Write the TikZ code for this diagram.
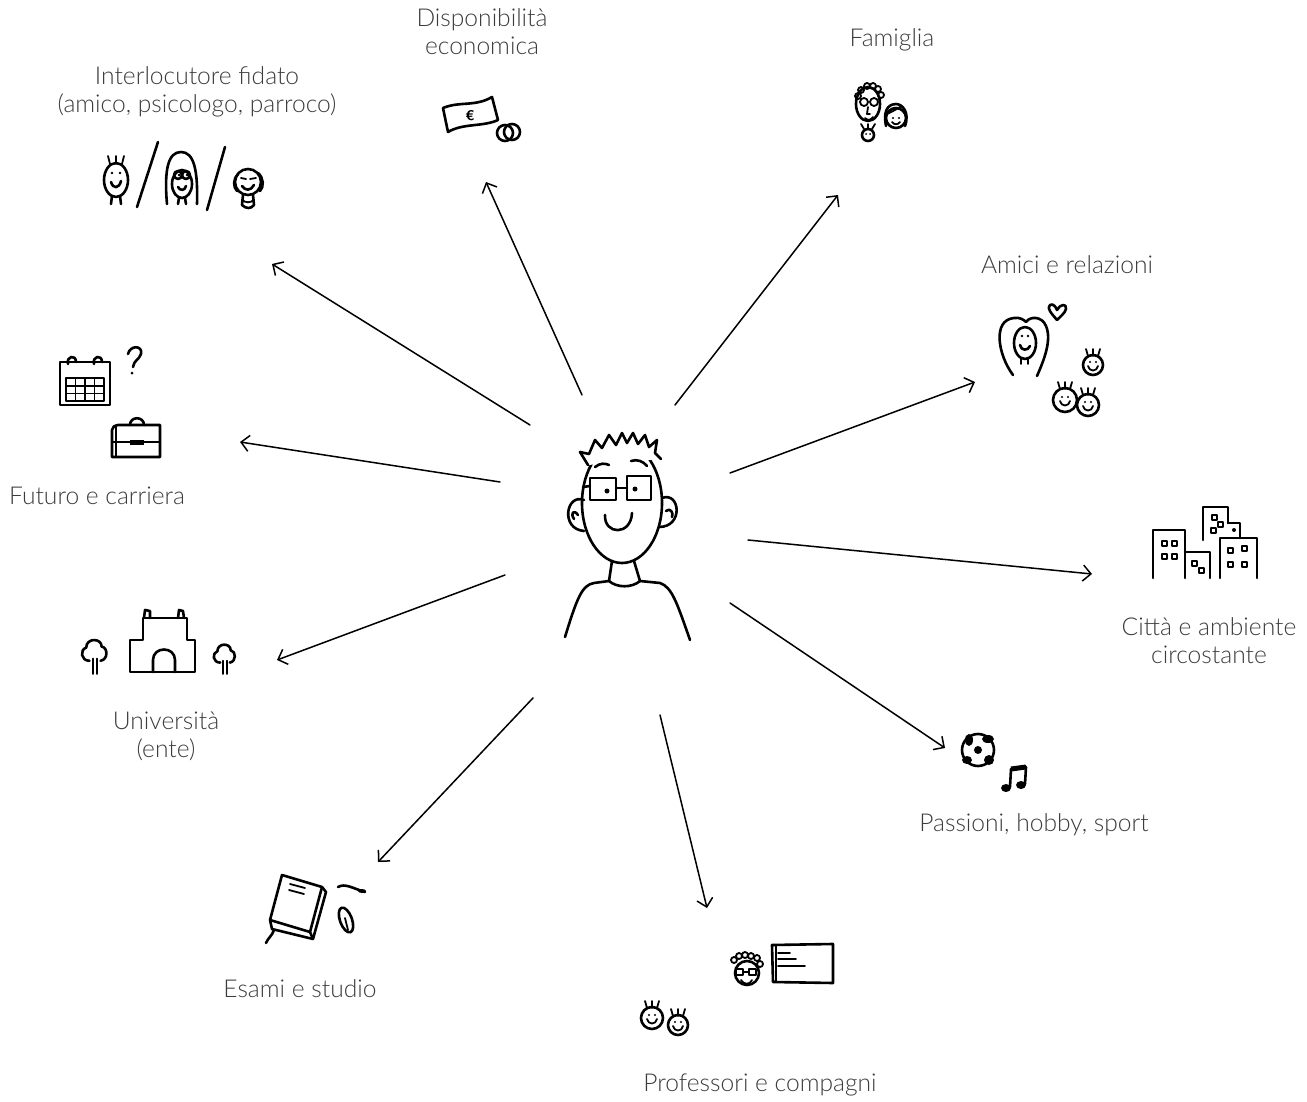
\documentclass[tikz,border=0pt]{standalone}
\usepackage{fontspec}
\setmainfont{Lato}[UprightFont=* Light]
\usepackage{tikz}
\usetikzlibrary{arrows.meta}
\usepackage{xcolor}
\definecolor{labelgrey}{HTML}{3C3C3C}

\begin{document}
\begin{tikzpicture}[x=0.5pt, y=-0.5pt,
    ink/.style={line width=1.3pt, line cap=round, line join=round},
    thin ink/.style={line width=0.9pt, line cap=round, line join=round},
    link/.style={line width=0.75pt, line cap=round, -{Straight Barb[length=4pt, width=8pt]}},
    lbl/.style={align=center, text=labelgrey, font=\fontsize{12.3}{14}\selectfont}]
    \useasboundingbox (0,0) rectangle (1307,1102);

    % etichette
    \node[lbl] (money) at (482,32) {Disponibilità\\economica};
    \node[lbl] (family) at (892,40) {Famiglia};
    \node[lbl] (trust) at (197,92) {Interlocutore fidato\\(amico, psicologo, parroco)};
    \node[lbl] (friends) at (1067,265) {Amici e relazioni};
    \node[lbl] (future) at (97,496) {Futuro e carriera};
    \node[lbl] (city) at (1209,641) {Città e ambiente\\circostante};
    \node[lbl] (uni) at (166,736) {Università\\(ente)};
    \node[lbl] (hobby) at (1034,825) {Passioni, hobby, sport};
    \node[lbl] (exams) at (300,989) {Esami e studio};
    \node[lbl] (profs) at (760,1085) {Professori e compagni};

    % frecce dal centro verso ogni ambito
    \coordinate (s-trust) at (530,425);   \coordinate (e-trust) at (272,264);
    \coordinate (s-money) at (582,395);   \coordinate (e-money) at (486,182);
    \coordinate (s-family) at (675,405);  \coordinate (e-family) at (838,195);
    \coordinate (s-friends) at (730,473); \coordinate (e-friends) at (975,382);
    \coordinate (s-city) at (748,540);    \coordinate (e-city) at (1092,574);
    \coordinate (s-hobby) at (730,603);   \coordinate (e-hobby) at (945,748);
    \coordinate (s-profs) at (660,715);   \coordinate (e-profs) at (707,908);
    \coordinate (s-exams) at (533,698);   \coordinate (e-exams) at (378,862);
    \coordinate (s-uni) at (505,575);     \coordinate (e-uni) at (277,660);
    \coordinate (s-future) at (500,482);  \coordinate (e-future) at (240,442);
    \foreach \n in {trust,money,family,friends,city,hobby,profs,exams,uni,future}
        \draw[link] (s-\n) -- (e-\n);

    % lo studente al centro
    \begin{scope}[shift={(622,503)}]
        \draw[ink] (0,0) ellipse [x radius=40, y radius=60];
        \draw[ink, fill=white] (-34,-38) -- (-42,-51) -- (-33,-49) -- (-27,-63) -- (-20,-55)
            -- (-13,-68) -- (-6,-58) -- (0,-70) -- (5,-60) -- (11,-70) -- (16,-59)
            -- (23,-68) -- (27,-56) -- (35,-63) -- (33,-50) -- (39,-44);
        % occhiali
        \draw[ink] (-32,-25) rectangle (-6,-3);
        \draw[ink] (5,-27) rectangle (29,-3);
        \draw[ink] (-6,-15) -- (5,-15);
        \draw[ink] (-32,-17) -- (-39,-16);
        \fill (-15,-12) circle (2.5);
        \fill (13,-14) circle (2.5);
        \draw[ink] (-27,-36) .. controls (-22,-40) and (-17,-40) .. (-13,-38);
        \draw[ink] (9,-42) .. controls (15,-44) and (21,-42) .. (25,-37);
        % bocca e orecchie
        \draw[ink] (-17,12) .. controls (-18,32) and (9,33) .. (10,10);
        \draw[ink] (-38,-3) .. controls (-56,-10) and (-62,26) .. (-38,28);
        \draw[ink] (-44,12) .. controls (-48,6) and (-52,10) .. (-48,16);
        \draw[ink] (40,-5) .. controls (58,-12) and (62,24) .. (37,24);
        \draw[ink] (44,8) .. controls (48,4) and (52,10) .. (50,14);
        % collo e spalle
        \draw[ink] (-10,58) -- (-13,78) .. controls (-5,85) and (10,85) .. (18,78) -- (12,58);
        \draw[ink] (-13,78) -- (-28,80) .. controls (-40,82) and (-45,95) .. (-57,134);
        \draw[ink] (18,78) -- (38,80) .. controls (50,84) and (55,100) .. (68,137);
    \end{scope}

    % interlocutore: amico / psicologa / parroco
    \begin{scope}[shift={(180,180)}]
        \draw[ink] (-64,0) ellipse [x radius=12, y radius=17];
        \foreach \a in {-1,0,1}
            \draw[thin ink] ({-64+\a*6},-16) -- ({-64+\a*8},-24);
        \fill (-68,-7) circle (1.3);
        \fill (-60,-7) circle (1.3);
        \draw[ink] (-69,2) .. controls (-67,9) and (-61,9) .. (-59,1);
        \draw[ink] (-68,16) -- (-69,24);
        \draw[ink] (-60,16) -- (-59,24);
        \draw[ink] (-43,27) -- (-22,-38);
        \draw[ink] (-13,24) .. controls (-16,-10) and (-12,-28) .. (1,-28)
            .. controls (14,-28) and (18,-10) .. (17,24);
        \draw[ink] (2,4) ellipse [x radius=10, y radius=14];
        \draw[ink] (-2,-5) circle (4);
        \draw[ink] (6,-5) circle (4);
        \fill (-1,-5) circle (1.5);
        \fill (7,-5) circle (1.5);
        \draw[ink] (-2,7) .. controls (0,11) and (5,11) .. (6,6);
        \draw[ink] (-1,18) -- (-2,24);
        \draw[ink] (5,18) -- (6,24);
        \draw[ink] (27,30) -- (45,-33);
        \draw[ink] (68,2) circle (13);
        \draw[ink] (58,-6) .. controls (53,-1) and (53,7) .. (57,11);
        \draw[ink] (78,-7) .. controls (84,-2) and (84,7) .. (80,11);
        \draw[thin ink] (61,-2) -- (66,-1);
        \draw[thin ink] (70,-1) -- (76,-2);
        \draw[ink] (62,6) .. controls (65,11) and (71,11) .. (74,5);
        \draw[ink] (63,15) -- (62,25) .. controls (66,29) and (71,29) .. (74,25) -- (73,15);
        \draw[thin ink] (62,20) .. controls (66,23) and (70,23) .. (74,20);
    \end{scope}

    % soldi
    \begin{scope}[shift={(475,115)}]
        \draw[ink] (-32,-7) .. controls (-15,-14) and (0,-8) .. (17,-18) -- (23,5)
            .. controls (8,12) and (-12,8) .. (-27,17) -- cycle;
        \node[font=\sffamily\bfseries\scriptsize] (euro) at (-5,1) {€};
        \draw[ink] (30,18) circle (8);
        \draw[ink] (37,17) circle (8);
    \end{scope}

    % famiglia
    \begin{scope}[shift={(880,110)}]
        \draw[ink] (-12,-6) ellipse [x radius=12, y radius=17];
        \foreach \cx/\cy in {-22/-14,-19/-20,-13/-24,-7/-24,-2/-21,1/-15}
            \draw[thin ink] (\cx,\cy) circle (3);
        \draw[thin ink] (-16,-8) circle (4);
        \draw[thin ink] (-6,-8) circle (4);
        \draw[thin ink] (-12,-3) -- (-13,4) -- (-10,4);
        \draw[thin ink] (-15,8) .. controls (-12,11) and (-9,10) .. (-7,7);
        \draw[ink] (6,16) .. controls (2,-4) and (12,-6) .. (16,-6)
            .. controls (22,-6) and (30,2) .. (25,16);
        \draw[ink] (16,8) circle (10);
        \draw[thin ink] (7,4) .. controls (12,2) and (18,-2) .. (22,-4);
        \fill (13,8) circle (1.2);
        \fill (19,8) circle (1.2);
        \draw[thin ink] (12,12) .. controls (14,15) and (18,15) .. (20,12);
        \draw[ink] (-12,25) circle (6);
        \foreach \a in {-1,0,1}
            \draw[thin ink] ({-12+\a*4},19) -- ({-12+\a*7},14);
        \fill (-14,24) circle (1);
        \fill (-10,24) circle (1);
    \end{scope}

    % amici e relazioni
    \begin{scope}[shift={(1050,360)}]
        \draw[ink] (-37,15) .. controls (-52,-5) and (-58,-40) .. (-36,-42)
            .. controls (-30,-43) and (-26,-40) .. (-24,-38)
            .. controls (-20,-44) and (-8,-44) .. (-4,-34)
            .. controls (2,-20) and (-6,0) .. (-13,16);
        \draw[ink] (-25,-17) ellipse [x radius=11, y radius=16];
        \fill (-28,-24) circle (1.3);
        \fill (-22,-24) circle (1.3);
        \draw[ink] (-30,-15) .. controls (-29,-9) and (-22,-9) .. (-20,-14);
        \draw[thin ink] (-29,-1) -- (-29,4);
        \draw[thin ink] (-22,-1) -- (-22,4);
        \draw[ink] (7,-40) .. controls (2,-46) and (-4,-52) .. (0,-55)
            .. controls (3,-57) and (6,-53) .. (7,-50)
            .. controls (10,-56) and (17,-57) .. (16,-51)
            .. controls (15,-47) and (10,-43) .. (7,-40);
        \foreach \fx/\fy/\fr in {43/5/10,15/40/12,38/45/11} {
            \draw[ink] (\fx,\fy) circle (\fr);
            \foreach \a in {-1,0,1}
                \draw[thin ink] ({\fx+\a*5},{\fy-\fr+1}) -- ({\fx+\a*7},{\fy-\fr-6});
            \fill ({\fx-3},{\fy-3}) circle (1.2);
            \fill ({\fx+3},{\fy-3}) circle (1.2);
            \draw[thin ink] ({\fx-5},{\fy+1}) .. controls ({\fx-4},{\fy+7}) and ({\fx+4},{\fy+7}) .. ({\fx+5},{\fy+1});
        }
    \end{scope}

    % città
    \begin{scope}[shift={(1205,545)}]
        \draw[ink] (-52,33) -- (-52,-15) -- (-20,-15) -- (-20,33);
        \draw[ink] (-20,7) -- (5,7) -- (5,33);
        \draw[ink] (-2,-5) -- (-2,-38) -- (23,-38) -- (23,-22);
        \draw[ink] (23,-22) -- (35,-22) -- (35,-7);
        \draw[ink] (15,33) -- (15,-7) -- (52,-7) -- (52,33);
        \foreach \wx/\wy in {-43/-4,-33/-4,-43/9,-33/9,-13/16,-6/23,7/-30,13/-23,6/-17,23/3,37/1,23/17,37/17}
            \draw[thin ink] (\wx,\wy) rectangle ++(5,5);
        \fill (29,-15) circle (2);
    \end{scope}

    % passioni: pallone e musica
    \begin{scope}[shift={(995,765)}]
        \draw[ink] (-17,-15) circle (16);
        \fill (-17,-15) circle (4);
        \fill (-26,-25) ellipse [x radius=4, y radius=6];
        \fill (-7,-26) ellipse [x radius=6, y radius=4];
        \fill (-28,-5) ellipse [x radius=5, y radius=4];
        \fill (-6,-5) ellipse [x radius=5, y radius=5];
        \draw[ink] (15,22) -- (16,4);
        \draw[ink] (30,19) -- (31,2);
        \draw[line width=2.5pt] (16,4) -- (31,2);
        \fill (11,23) ellipse [x radius=5, y radius=4];
        \fill (26,20) ellipse [x radius=5, y radius=4];
    \end{scope}

    % professori e compagni
    \begin{scope}[shift={(740,990)}]
        \draw[ink] (7,-17) circle (12);
        \foreach \cx/\cy in {-6/-30,-1/-34,5/-35,11/-34,17/-32,20/-26}
            \draw[thin ink] (\cx,\cy) circle (3);
        \draw[thin ink] (-4,-21) rectangle (3,-15);
        \draw[thin ink] (9,-21) rectangle (16,-15);
        \draw[thin ink] (3,-18) -- (9,-18);
        \draw[thin ink] (1,-10) .. controls (4,-5) and (10,-5) .. (12,-10);
        \draw[ink] (32,-45) -- (93,-46) -- (93,-7) -- (33,-8) -- cycle;
        \draw[thin ink] (36,-44) -- (36,-9);
        \draw[thin ink] (38,-37) -- (50,-37);
        \draw[thin ink] (38,-31) -- (56,-31);
        \draw[thin ink] (38,-24) -- (65,-24);
        \foreach \fx/\fy/\fr in {-88/28/11,-62/35/10} {
            \draw[ink] (\fx,\fy) circle (\fr);
            \foreach \a in {-1,0,1}
                \draw[thin ink] ({\fx+\a*5},{\fy-\fr+1}) -- ({\fx+\a*7},{\fy-\fr-6});
            \fill ({\fx-3},{\fy-3}) circle (1.2);
            \fill ({\fx+3},{\fy-3}) circle (1.2);
            \draw[thin ink] ({\fx-5},{\fy+1}) .. controls ({\fx-4},{\fy+7}) and ({\fx+4},{\fy+7}) .. ({\fx+5},{\fy+1});
        }
    \end{scope}

    % esami: libro e penna
    \begin{scope}[shift={(310,910)}]
        \draw[ink] (-28,-35) -- (12,-23) -- (0,22) -- (-40,10) -- cycle;
        \draw[ink] (12,-23) -- (16,-18) -- (3,29) -- (-38,19) -- (-40,10);
        \draw[ink] (0,22) -- (3,29);
        \draw[thin ink] (-20,-26) -- (-5,-22);
        \draw[thin ink] (-21,-20) -- (-6,-16);
        \draw[ink] (-36,20) .. controls (-38,26) and (-42,28) .. (-44,33);
        \draw[ink] (28,-23) .. controls (35,-27) and (42,-22) .. (55,-18);
        \fill (52,-19) ellipse [x radius=4, y radius=2];
        \draw[ink, rotate around={20:(36,10)}] (36,10) ellipse [x radius=6, y radius=13];
        \draw[thin ink] (35,8) -- (38,20);
    \end{scope}

    % futuro: calendario e valigetta
    \begin{scope}[shift={(110,410)}]
        \draw[ink] (-50,-48) rectangle (0,-5);
        \draw[ink] (-42,-46) .. controls (-44,-54) and (-34,-56) .. (-34,-48);
        \draw[ink] (-16,-46) .. controls (-18,-54) and (-8,-56) .. (-8,-48);
        \draw[ink] (-44,-32) rectangle (-6,-9);
        \foreach \gx in {-34.5,-25,-15.5}
            \draw[thin ink] (\gx,-32) -- (\gx,-9);
        \foreach \gy in {-24.3,-16.6}
            \draw[thin ink] (-44,\gy) -- (-6,\gy);
        \draw[ink] (18,-56) .. controls (20,-65) and (33,-65) .. (31,-56)
            .. controls (29,-50) and (24,-50) .. (23,-43);
        \fill (22,-37) circle (1.5);
        \draw[ink] (2,47) -- (2,20) .. controls (2,17) and (5,15) .. (8,15) -- (50,15) -- (50,47) -- cycle;
        \draw[ink] (20,15) .. controls (20,6) and (34,6) .. (34,15);
        \draw[thin ink] (2,32) -- (50,32);
        \fill (20,30) rectangle (34,35);
        \draw[thin ink] (6,15) -- (6,47);
    \end{scope}

    % università
    \begin{scope}[shift={(165,650)}]
        \draw[ink] (-35,22) -- (-35,-10) -- (-22,-10) -- (-22,-32) -- (22,-32)
            -- (22,-10) -- (30,-10) -- (30,22) -- cycle;
        \draw[ink] (-21,-32) -- (-20,-40) -- (-15,-39) -- (-15,-32);
        \draw[ink] (13,-32) -- (14,-40) -- (18,-39) -- (19,-32);
        \draw[ink] (-12,22) -- (-12,10) .. controls (-12,-4) and (10,-4) .. (10,10) -- (10,22);
        \foreach \tx/\ty/\ts in {-70/2/1.1,60/5/0.95} {
            \begin{scope}[shift={(\tx,\ty)}, scale=\ts]
                \draw[ink] (-5,8) .. controls (-13,8) and (-14,-2) .. (-8,-4)
                    .. controls (-8,-13) and (6,-13) .. (6,-5)
                    .. controls (12,-4) and (12,7) .. (5,8);
                \draw[thin ink] (-2,6) -- (-2,20);
                \draw[thin ink] (2,6) -- (2,20);
            \end{scope}
        }
    \end{scope}
\end{tikzpicture}
\end{document}
